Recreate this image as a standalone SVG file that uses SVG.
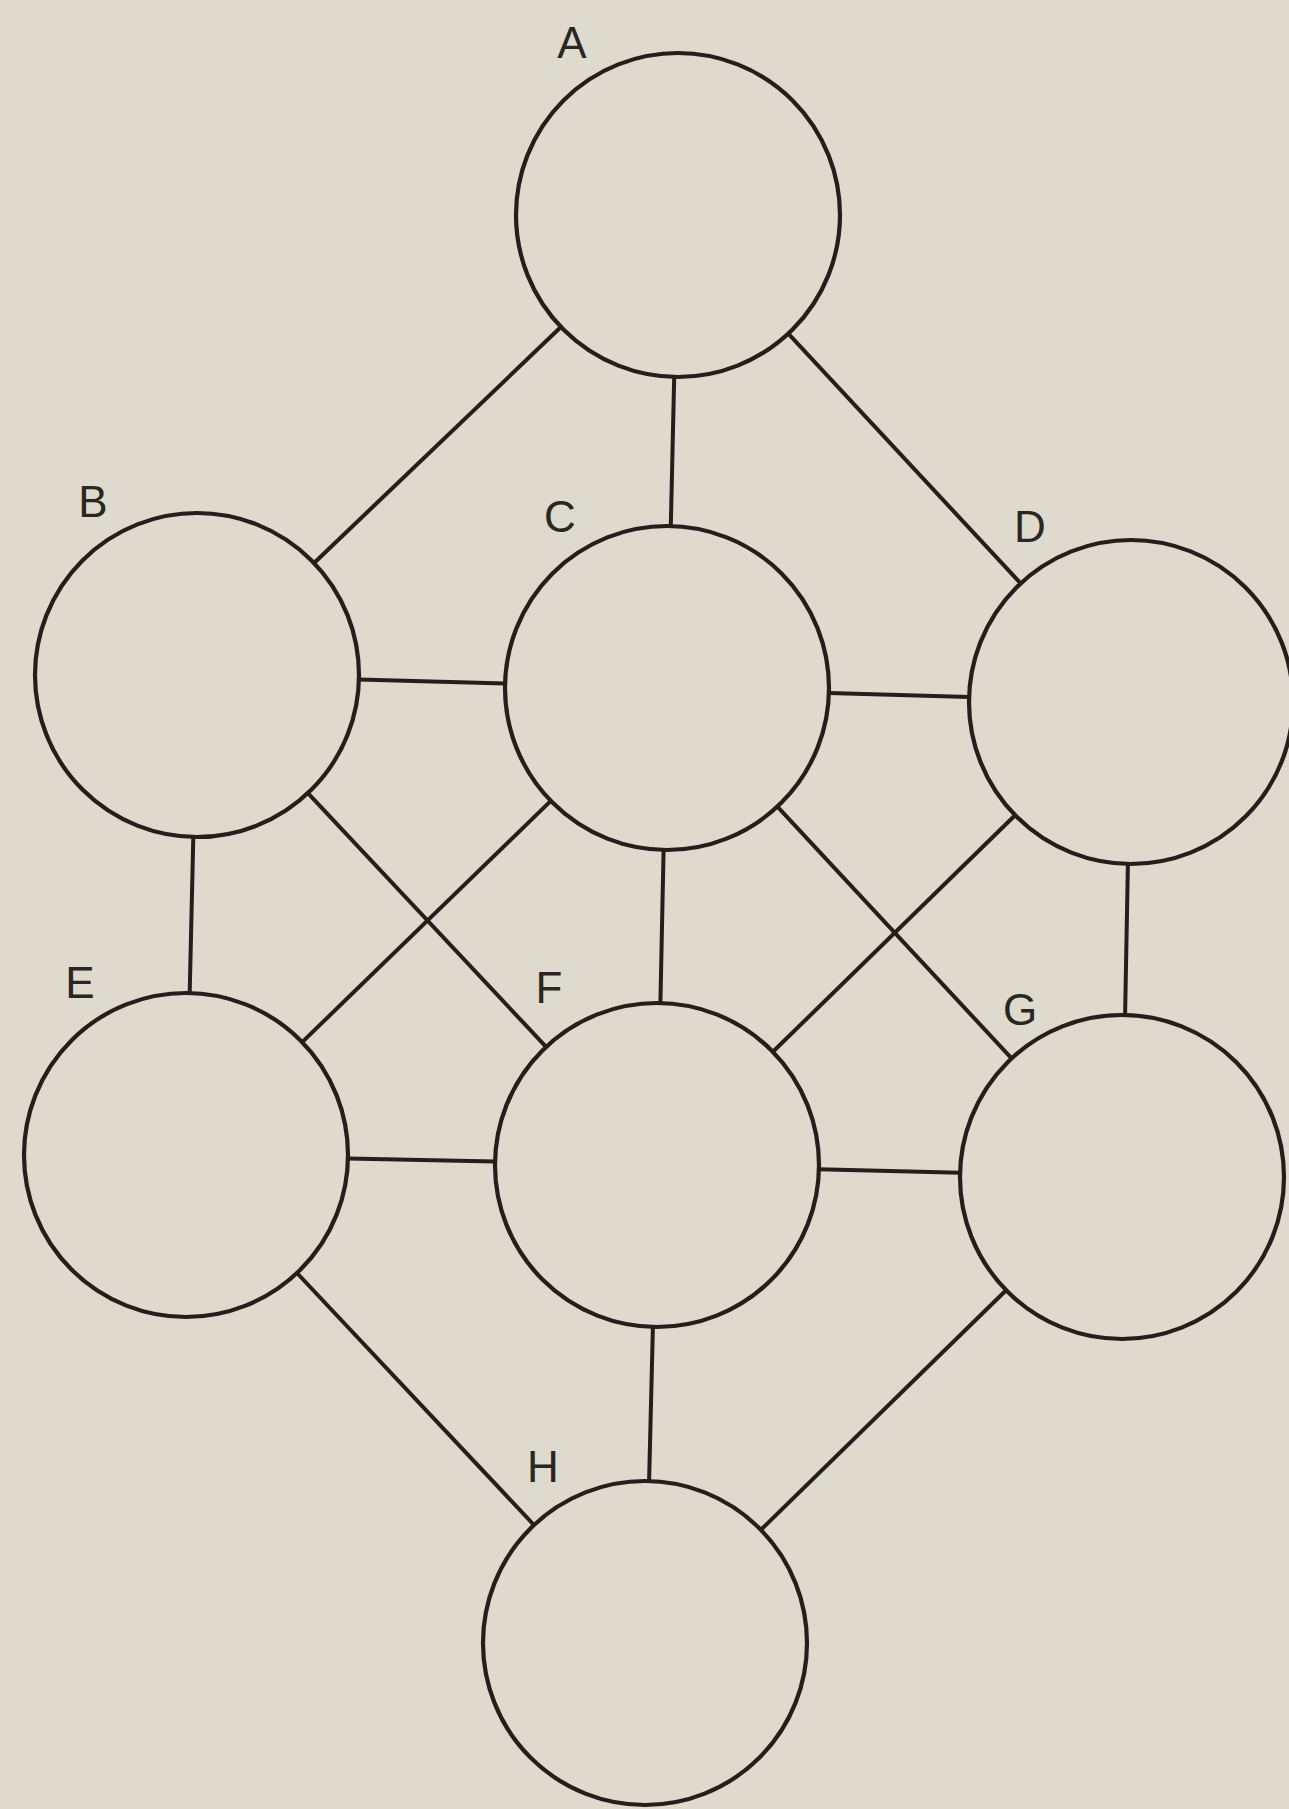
<svg xmlns="http://www.w3.org/2000/svg" width="1289" height="1809" viewBox="0 0 1289 1809">
<style>
.bg{fill:#dedacd}
.node circle{fill:none;stroke:#231f1b;stroke-width:4.2}
.node text{font-family:"Liberation Sans",Arial,sans-serif;font-size:44px;fill:#2a2622;text-anchor:middle}
#edges line{stroke:#231f1b;stroke-width:4;stroke-linecap:butt}
</style>
<rect class="bg" x="0" y="0" width="1289" height="1809"/>
<g id="edges">
<line x1="560.9" y1="327.0" x2="314.1" y2="563.0"/>
<line x1="674.2" y1="377.0" x2="670.8" y2="526.0"/>
<line x1="788.3" y1="333.6" x2="1020.7" y2="583.4"/>
<line x1="358.9" y1="679.5" x2="505.1" y2="683.5"/>
<line x1="828.9" y1="692.9" x2="969.1" y2="697.1"/>
<line x1="193.3" y1="837.0" x2="189.7" y2="993.0"/>
<line x1="307.9" y1="793.1" x2="546.1" y2="1046.9"/>
<line x1="550.8" y1="800.9" x2="302.2" y2="1042.1"/>
<line x1="663.6" y1="850.0" x2="660.4" y2="1003.0"/>
<line x1="777.4" y1="806.6" x2="1011.6" y2="1058.4"/>
<line x1="1015.1" y1="815.2" x2="772.9" y2="1051.8"/>
<line x1="1127.9" y1="864.0" x2="1125.1" y2="1015.0"/>
<line x1="348.0" y1="1158.4" x2="495.0" y2="1161.6"/>
<line x1="818.9" y1="1169.2" x2="960.1" y2="1172.8"/>
<line x1="297.0" y1="1273.0" x2="534.0" y2="1525.0"/>
<line x1="652.9" y1="1326.9" x2="649.1" y2="1481.1"/>
<line x1="1006.1" y1="1290.2" x2="760.9" y2="1529.8"/>
</g>
<g id="node-A" class="node"><circle cx="678" cy="215" r="162"/><text x="572" y="58">A</text></g>
<g id="node-B" class="node"><circle cx="197" cy="675" r="162"/><text x="93" y="517">B</text></g>
<g id="node-C" class="node"><circle cx="667" cy="688" r="162"/><text x="560" y="532">C</text></g>
<g id="node-D" class="node"><circle cx="1131" cy="702" r="162"/><text x="1030" y="542">D</text></g>
<g id="node-E" class="node"><circle cx="186" cy="1155" r="162"/><text x="80" y="998">E</text></g>
<g id="node-F" class="node"><circle cx="657" cy="1165" r="162"/><text x="549" y="1003">F</text></g>
<g id="node-G" class="node"><circle cx="1122" cy="1177" r="162"/><text x="1020" y="1025">G</text></g>
<g id="node-H" class="node"><circle cx="645" cy="1643" r="162"/><text x="543" y="1482">H</text></g>
</svg>
